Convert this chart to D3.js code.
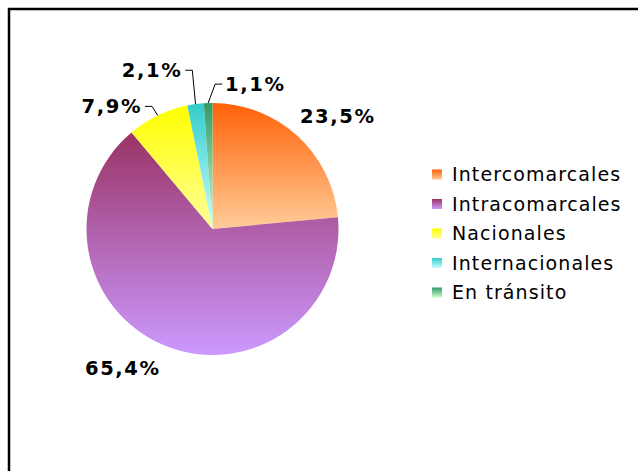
<!DOCTYPE html>
<html>
<head>
<meta charset="utf-8">
<script src="https://cdn.jsdelivr.net/npm/d3@7"></script>
<style>
  html, body { margin: 0; padding: 0; background: #fff; }
  svg { display: block; }
</style>
</head>
<body>
<div id="chart"></div>
<script>
// Datos del gráfico
const categories = ['Intercomarcales', 'Intracomarcales', 'Nacionales', 'Internacionales', 'En tránsito'];
const values = [23.5, 65.4, 7.9, 2.1, 1.1];
const valueLabels = ['23,5%', '65,4%', '7,9%', '2,1%', '1,1%'];

// Colores (arriba / abajo del degradado vertical)
const topColors = ['#ff6208', '#993366', '#ffff00', '#33cccc', '#339966'];
const bottomColors = ['#ffcc99', '#cc99ff', '#ffff99', '#ccffff', '#ccffcc'];

const width = 638, height = 471;
const cx = 212.5, cy = 229, radius = 126;

const svg = d3.select('#chart').append('svg')
  .attr('width', width)
  .attr('height', height);

// Marco
svg.append('rect')
  .attr('x', 9).attr('y', 9)
  .attr('width', width + 20).attr('height', height + 20)
  .attr('fill', '#fff')
  .attr('stroke', '#000')
  .attr('stroke-width', 2.5);

// Degradados
const defs = svg.append('defs');
categories.forEach((c, i) => {
  const g = defs.append('linearGradient')
    .attr('id', 'grad' + i)
    .attr('x1', 0).attr('y1', 0).attr('x2', 0).attr('y2', 1);
  g.append('stop').attr('offset', '0%').attr('stop-color', topColors[i]);
  g.append('stop').attr('offset', '100%').attr('stop-color', bottomColors[i]);
});

const pie = d3.pie().sort(null).value(d => d)(values);
const arc = d3.arc().innerRadius(0).outerRadius(radius);

const g = svg.append('g').attr('transform', `translate(${cx},${cy})`);

g.selectAll('path')
  .data(pie)
  .join('path')
    .attr('d', arc)
    .attr('fill', (d, i) => `url(#grad${i})`);

// Posición de etiquetas (polar, relativa al radio)
// mode: 'center' sin guía, 'left'/'right' con línea guía
const labelLayout = [
  { mode: 'center', k: 1.34, da: 5.6 },
  { mode: 'center', k: 1.31, da: 10.6 },
  { mode: 'left', k: 1.085, da: -0.5 },
  { mode: 'left', k: 1.27, da: 0.5 },
  { mode: 'right', k: 1.15, da: 3 }
];

const polar = (angleRad, r) => [Math.sin(angleRad) * r, -Math.cos(angleRad) * r];
const labelFont = { size: 19.5, spacing: 1.6 };

pie.forEach((d, i) => {
  const L = labelLayout[i];
  const mid = (d.startAngle + d.endAngle) / 2;
  if (L.mode === 'center') {
    const [x, y] = polar(mid + L.da * Math.PI / 180, radius * L.k);
    g.append('text')
      .attr('x', x).attr('y', y)
      .attr('dy', '0.36em')
      .attr('text-anchor', 'middle')
      .attr('font-family', 'DejaVu Sans, Verdana, sans-serif')
      .attr('font-weight', 'bold')
      .attr('font-size', labelFont.size)
      .attr('letter-spacing', labelFont.spacing)
      .text(valueLabels[i]);
  } else {
    const edge = polar(mid, radius);
    const elbow = polar(mid + L.da * Math.PI / 180, radius * L.k);
    const dir = L.mode === 'left' ? -1 : 1;
    const end = [elbow[0] + dir * 7, elbow[1]];
    g.append('path')
      .attr('d', d3.line()([edge, elbow, end]))
      .attr('fill', 'none')
      .attr('stroke', '#000')
      .attr('stroke-width', 1);
    g.append('text')
      .attr('x', end[0] + dir * 3)
      .attr('y', end[1])
      .attr('dy', '0.36em')
      .attr('text-anchor', L.mode === 'left' ? 'end' : 'start')
      .attr('font-family', 'DejaVu Sans, Verdana, sans-serif')
      .attr('font-weight', 'bold')
      .attr('font-size', labelFont.size)
      .attr('letter-spacing', labelFont.spacing)
      .text(valueLabels[i]);
  }
});

// Leyenda
const legendY = d3.scalePoint().domain(categories).range([174.5, 292.5]);
const legend = svg.append('g');
categories.forEach((c, i) => {
  const y = legendY(c);
  legend.append('rect')
    .attr('x', 432).attr('y', y - 5)
    .attr('width', 10).attr('height', 10)
    .attr('fill', `url(#grad${i})`);
  legend.append('text')
    .attr('x', 452).attr('y', y)
    .attr('dy', '0.36em')
    .attr('font-family', 'DejaVu Sans, Verdana, sans-serif')
    .attr('font-size', 19)
    .attr('letter-spacing', 1.1)
    .attr('fill', '#000')
    .text(c);
});
</script>
</body>
</html>
